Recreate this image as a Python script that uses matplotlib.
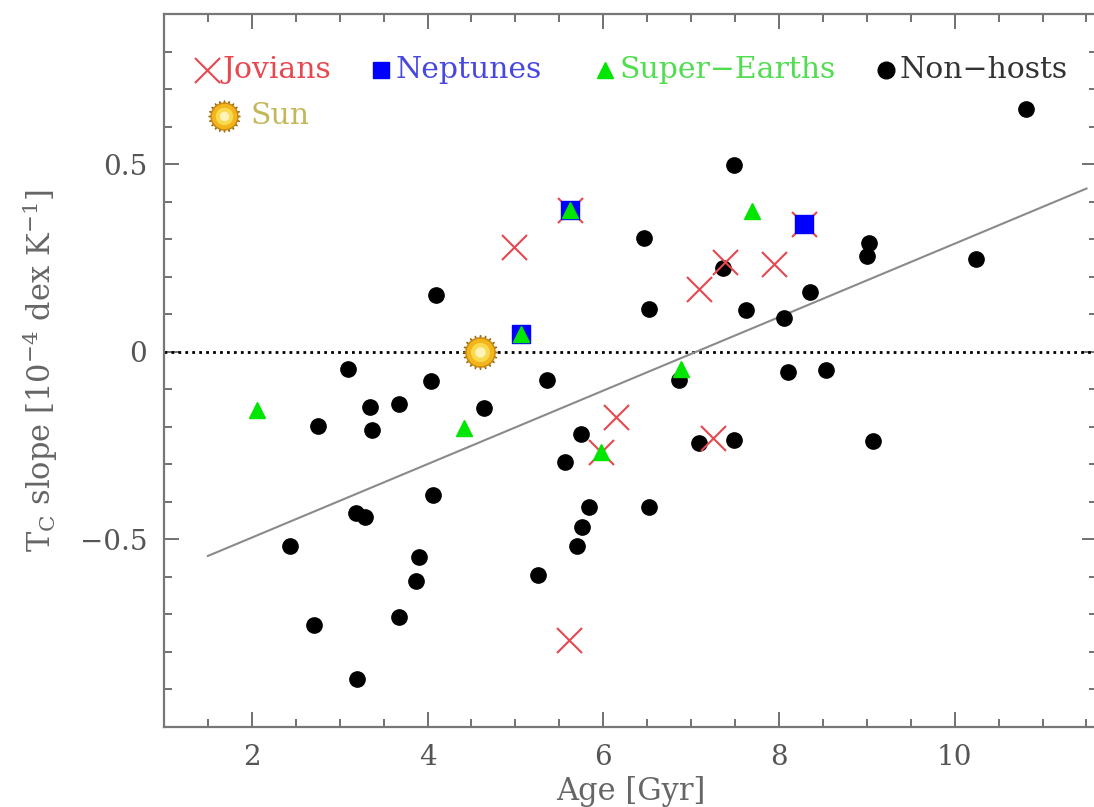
import matplotlib
matplotlib.use('Agg')
import matplotlib.pyplot as plt
from matplotlib.ticker import MultipleLocator
import numpy as np

plt.rcParams['font.family'] = ['DejaVu Serif']
plt.rcParams['mathtext.fontset'] = 'dejavuserif'

# non-host stars
non_age = [3.09, 4.10, 4.04, 5.36, 3.34, 3.67, 4.64, 2.75, 3.37, 5.75,
           5.56, 4.06, 3.19, 3.29, 2.43, 5.84, 6.52, 5.76, 5.70, 3.90,
           3.87, 5.26, 3.67, 2.71, 3.20, 7.49, 6.46, 9.02, 9.00, 10.24,
           7.36, 6.52, 7.62, 8.35, 8.06, 8.10, 8.54, 6.86, 7.09, 7.49,
           9.07, 10.81]
non_slope = [-0.045, 0.152, -0.078, -0.074, -0.147, -0.138, -0.149, -0.197, -0.208, -0.218,
             -0.295, -0.381, -0.429, -0.440, -0.518, -0.413, -0.413, -0.468, -0.519, -0.546,
             -0.612, -0.596, -0.708, -0.729, -0.871, 0.498, 0.302, 0.289, 0.256, 0.247,
             0.222, 0.115, 0.110, 0.158, 0.091, -0.054, -0.050, -0.074, -0.243, -0.234,
             -0.237, 0.647]

jov_age = [4.98, 5.62, 8.29, 7.39, 7.94, 7.09, 6.14, 7.25, 5.97, 5.61]
jov_slope = [0.279, 0.378, 0.340, 0.238, 0.233, 0.168, -0.175, -0.231, -0.268, -0.767]

nep_age = [5.62, 5.06, 8.29]
nep_slope = [0.378, 0.048, 0.340]

se_age = [5.62, 5.06, 7.69, 2.06, 4.42, 6.88, 5.97]
se_slope = [0.378, 0.048, 0.375, -0.154, -0.204, -0.047, -0.268]

sun_age, sun_slope = 4.6, 0.0

fit_x = [1.5, 11.5]
fit_slope, fit_icpt = 0.0979, -0.691

red = '#e8474f'
blue = '#0000ff'
green = '#00e600'
gray = '#666666'

fig = plt.figure(figsize=(10.94, 8.07), dpi=100)
ax = fig.add_axes([164 / 1094, 80 / 807, 933 / 1094, 713 / 807])


def draw_sun(x, y, s, trans):
    ax.plot(x, y, marker=(20, 1, 0), ms=s, color='#9c6c10', mec='#9c6c10',
            transform=trans, zorder=7, clip_on=False)
    ax.plot(x, y, 'o', ms=s * 0.84, mfc='#f2b51c', mec='#c98510', mew=1,
            transform=trans, zorder=8, clip_on=False)
    ax.plot(x, y, 'o', ms=s * 0.55, mfc='#fbd94f', mec='none',
            transform=trans, zorder=9, clip_on=False)
    ax.plot(x, y, 'o', ms=s * 0.3, mfc='#fff3b8', mec='none',
            transform=trans, zorder=9, clip_on=False)


ax.axhline(0, color='black', ls=(0, (1, 1.5)), lw=2, zorder=2)
fx = np.array(fit_x)
ax.plot(fx, fit_icpt + fit_slope * fx, color='#8a8a8a', lw=1.5, zorder=2)

ax.plot(non_age, non_slope, 'o', ms=11, color='black', ls='none', zorder=3)
ax.plot(jov_age, jov_slope, 'x', ms=18, mew=1.5, color=red, ls='none', zorder=4)
ax.plot(nep_age, nep_slope, 's', ms=12.5, color=blue, ls='none', zorder=5)
ax.plot(se_age, se_slope, '^', ms=11, color=green, ls='none', zorder=6)
draw_sun(sun_age, sun_slope, 25, ax.transData)

# legend, drawn by hand
tA = ax.transAxes
fs = 21.5
ly = 0.921
ax.plot(0.046, ly, 'x', ms=18, mew=1.5, color=red, transform=tA)
ax.text(0.0624, ly, 'Jovians', color=red, fontsize=fs, va='center', transform=tA)
ax.plot(0.233, ly, 's', ms=11, color=blue, transform=tA)
ax.text(0.248, ly, 'Neptunes', color='#4848e0', fontsize=fs, va='center', transform=tA)
ax.plot(0.473, ly, '^', ms=12, color=green, transform=tA)
ax.text(0.488, ly, 'Super\u2212Earths', color='#50dd50', fontsize=fs, va='center', transform=tA)
ax.plot(0.774, ly, 'o', ms=12, color='black', transform=tA)
ax.text(0.788, ly, 'Non\u2212hosts', color='#333333', fontsize=fs, va='center', transform=tA)
draw_sun(0.0645, 0.857, 23, tA)
ax.text(0.0925, 0.857, 'Sun', color='#c2b85a', fontsize=fs, va='center', transform=tA)

ax.set_xlim(1, 11.62)
ax.set_ylim(-1, 0.9)
ax.xaxis.set_major_locator(MultipleLocator(2))
ax.xaxis.set_minor_locator(MultipleLocator(0.5))
ax.yaxis.set_major_locator(MultipleLocator(0.5))
ax.yaxis.set_minor_locator(MultipleLocator(0.1))
ax.set_yticks([-0.5, 0, 0.5])
ax.set_yticklabels(['\u22120.5', '0', '0.5'])

ax.tick_params(which='both', direction='in', top=True, right=True,
               color=gray, labelcolor='#555555', labelsize=20)
ax.tick_params(which='major', length=11, width=1.3, pad=12)
ax.tick_params(which='minor', length=6, width=1.3)
for sp in ax.spines.values():
    sp.set_color('#777777')
    sp.set_linewidth(1.6)

ax.set_xlabel('Age [Gyr]', fontsize=22, color=gray, labelpad=4)
ax.set_ylabel(r'T$_{\rm C}$ slope [10$^{-4}$ dex K$^{-1}$]', fontsize=22, color=gray, labelpad=14)

fig.savefig('out.png', dpi=100)
